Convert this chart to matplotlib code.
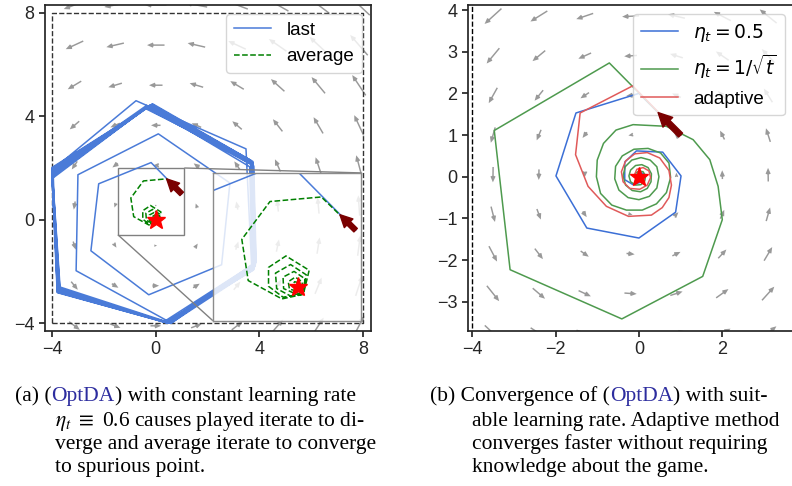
import numpy as np
import matplotlib.pyplot as plt
from mpl_toolkits.axes_grid1.inset_locator import mark_inset

plt.rcParams['font.family'] = ['Liberation Sans', 'DejaVu Sans']
plt.rcParams['axes.edgecolor'] = '#262626'
plt.rcParams['axes.linewidth'] = 1.25
plt.rcParams['xtick.color'] = '#262626'
plt.rcParams['ytick.color'] = '#262626'
plt.rcParams['xtick.major.width'] = 1.25
plt.rcParams['ytick.major.width'] = 1.25

# ---- panel (a): OptDA, constant step 0.6 ----
last_x = [1.0, -0.18, -2.2, -2.5, -0.27, 2.54, 2.86,
          0.1, -3.0, -3.07, 0.49, 3.7, 3.48,
          -0.76, -3.96, -3.80, 0.30, 3.72, 3.62,
          -0.35, -4.0, -3.78, 0.45, 3.80, 3.70,
          -0.25, -4.0, -3.75, 0.52, 3.83, 3.75,
          -0.20, -4.0, -3.72, 0.48, 3.85, 3.72,
          -0.30, -4.0, -3.76, 0.58, 3.78, 3.68,
          -0.15, -4.0, -3.70, 0.42, 3.86, 3.76,
          -0.28, -4.0, -3.74, 0.50, 3.82, 3.73,
          -0.22, -4.0, -3.73, 0.55, 3.84, 3.74,
          -0.32, -4.0, -3.77, 0.47, 3.80, 3.70,
          -0.40, -3.98, -3.79, 0.36, 3.76, 3.66,
          -0.12, -4.0, -3.69, 0.60, 3.87, 3.78,
          -0.36, -4.0, -3.80, 0.40, 3.79, 3.69,
          -0.24, -4.0, -3.74, 0.52, 3.83, 3.72]
last_y = [1.0, 2.21, 1.39, -1.2, -2.9, -1.74, 1.42,
          3.32, 1.74, -1.97, -3.93, -1.85, 2.74,
          4.60, 1.95, -2.62, -3.95, -1.75, 2.05,
          4.42, 1.85, -2.70, -3.98, -1.85, 2.20,
          4.38, 1.75, -2.74, -4.0, -1.80, 2.25,
          4.44, 1.92, -2.68, -4.0, -1.70, 2.15,
          4.35, 1.68, -2.78, -4.0, -1.90, 2.28,
          4.46, 1.98, -2.65, -3.97, -1.65, 2.10,
          4.40, 1.80, -2.72, -4.0, -1.78, 2.22,
          4.42, 1.88, -2.70, -4.0, -1.75, 2.18,
          4.37, 1.72, -2.76, -3.99, -1.82, 2.24,
          4.30, 1.60, -2.82, -3.96, -1.95, 2.30,
          4.48, 2.02, -2.60, -4.0, -1.62, 2.08,
          4.33, 1.64, -2.80, -3.98, -1.92, 2.27,
          4.41, 1.84, -2.71, -4.0, -1.79, 2.2]

avg_x = [1.0, 0.41, -0.475, -0.96, -0.85, -0.27,
         0.1, 0.2, -0.2, -0.5, -0.5, -0.25,
         0.08, 0.15, -0.12, -0.38, -0.36, -0.12,
         0.1, 0.13, -0.06, -0.25, -0.24, -0.06,
         0.08, 0.08, -0.04, -0.16, -0.14, -0.02,
         0.05, 0.03, -0.05, -0.09, -0.05, 0.0]
avg_y = [1.0, 1.58, 1.50, 0.84, 0.12, -0.20,
         -0.12, 0.3, 0.55, 0.35, 0.02, -0.17,
         -0.12, 0.22, 0.4, 0.25, -0.02, -0.15,
         -0.08, 0.15, 0.28, 0.18, -0.02, -0.1,
         -0.04, 0.1, 0.18, 0.1, -0.03, -0.06,
         0.0, 0.08, 0.1, 0.04, -0.02, 0.0]

# ---- panel (b): three step size rules ----
const_x = [1.0, 0.0, -1.51, -1.99, -1.25, 0.0, 0.88, 1.01, 0.57,
           -0.06, -0.34, -0.34, -0.14, 0.1, 0.15, 0.05, 0.0]
const_y = [1.0, 2.0, 1.53, 0.02, -1.23, -1.47, -0.85, 0.02, 0.59,
           0.62, 0.35, -0.07, -0.19, -0.11, 0.05, 0.1, 0.0]

sqrt_x = [1.0, -0.71, -3.47, -3.09, -0.41, 1.53, 2.0,
          1.9, 1.7, 1.3, 0.66, -0.14, -0.55, -0.85, -1.0, -1.02, -0.92,
          -0.65, -0.3, 0.08, 0.42, 0.66, 0.76, 0.72, 0.52, 0.22, -0.12,
          -0.4, -0.56, -0.58, -0.48, -0.26, 0.0, 0.25, 0.43, 0.48, 0.43,
          0.27, 0.05, -0.17, -0.33, -0.38, -0.32, -0.16, 0.04, 0.2, 0.29,
          0.3, 0.22, 0.07, -0.08, -0.2, -0.24, -0.2, -0.08, 0.05, 0.14,
          0.16, 0.1, 0.0, -0.08, -0.1, -0.05, 0.02, 0.0]
sqrt_y = [1.0, 2.73, 1.11, -2.23, -3.41, -2.39, -1.03,
          -0.23, 0.41, 0.89, 1.21, 1.25, 1.12, 0.8, 0.4, 0.0, -0.4,
          -0.68, -0.8, -0.8, -0.65, -0.38, -0.02, 0.33, 0.57, 0.68, 0.66,
          0.5, 0.25, -0.05, -0.32, -0.5, -0.55, -0.47, -0.27, 0.0, 0.24,
          0.4, 0.46, 0.4, 0.24, 0.02, -0.2, -0.33, -0.36, -0.28, -0.12,
          0.07, 0.22, 0.29, 0.27, 0.16, 0.02, -0.12, -0.2, -0.19, -0.1,
          0.02, 0.12, 0.14, 0.08, 0.0, -0.06, -0.05, 0.0]

adapt_x = [1.0, -0.15, -1.41, -1.52, -1.22, -0.78, -0.25, 0.3, 0.56, 0.72,
           0.78, 0.72, 0.5, 0.2, -0.1, -0.32, -0.42, -0.38, -0.22, 0.02,
           0.2, 0.28, 0.24, 0.1, -0.05, -0.1, -0.05, 0.0]
adapt_y = [1.0, 2.18, 1.53, 0.53, -0.23, -0.71, -0.95, -0.92, -0.74, -0.5,
           -0.2, 0.15, 0.45, 0.58, 0.55, 0.38, 0.12, -0.12, -0.28, -0.3,
           -0.2, -0.02, 0.14, 0.22, 0.18, 0.06, -0.02, 0.0]

start = (1.0, 1.0)
star = (0.0, 0.0)


def field(X, Y):
    # rotational vector field of the game
    return -Y, X


arrow_style = 'simple,head_length=0.55,head_width=0.55,tail_width=0.22'

fig = plt.figure(figsize=(7.92, 4.86), dpi=100)

# ================= panel (a) =================
ax = fig.add_axes([45 / 792, 155 / 486, 326 / 792, 326 / 486])
gx, gy = np.meshgrid(np.arange(-4.7, 8.6, 1.567), np.arange(-4.1, 8.5, 1.55))
U, V = field(gx, gy)
ax.quiver(gx, gy, U, V, color='gray', alpha=0.8, pivot='mid', angles='xy',
          scale_units='xy', scale=10, width=0.0045, headwidth=3.5, headlength=4)
ax.plot([-4, 8, 8, -4, -4], [-4, -4, 8, 8, -4], color='#333333', ls='--', lw=1)
ax.plot(last_x, last_y, color='#4a7bd8', lw=1.1, label='last')
ax.plot(avg_x, avg_y, color='green', ls='--', lw=1.1, label='average')
ax.plot(*star, marker='*', color='red', ms=14, ls='none', zorder=5)
ax.annotate('', xy=(0.42, 1.58), xytext=start,
            arrowprops=dict(arrowstyle=arrow_style, color='#7a0000',
                            mutation_scale=16, shrinkA=0, shrinkB=0), zorder=6)
ax.set_xlim(-4.27, 8.3)
ax.set_ylim(-4.3, 8.3)
ax.set_xticks([-4, 0, 4, 8])
ax.set_yticks([-4, 0, 4, 8])
ax.tick_params(labelsize=13, length=4)
ax.legend(loc='upper right', fontsize=13.5)

axins = ax.inset_axes([2.2, -3.9, 5.73, 5.71], transform=ax.transData)
axins.set_facecolor((1, 1, 1, 0.82))
axins.plot(last_x, last_y, color='#4a7bd8', lw=1.1)
axins.plot(avg_x, avg_y, color='green', ls='--', lw=1.1)
axins.plot(*star, marker='*', color='red', ms=14, ls='none', zorder=5)
axins.annotate('', xy=(0.73, 1.27), xytext=start,
               arrowprops=dict(arrowstyle=arrow_style, color='#7a0000',
                               mutation_scale=16, shrinkA=0, shrinkB=0), zorder=6)
axins.set_xlim(-1.46, 1.1)
axins.set_ylim(-0.58, 2.0)
axins.set_xticks([])
axins.set_yticks([])
for s in axins.spines.values():
    s.set_color('0.55')
    s.set_linewidth(1)
mark_inset(ax, axins, loc1=1, loc2=3, fc='none', ec='0.5', lw=1)

# ================= panel (b) =================
bx = fig.add_axes([468 / 792, 155 / 486, 326 / 792, 326 / 486])
hx, hy = np.meshgrid(np.linspace(-4.6, 4.2, 9), np.linspace(-3.75, 3.85, 9))
U2, V2 = field(hx, hy)
bx.quiver(hx, hy, U2, V2, color='gray', alpha=0.8, pivot='mid', angles='xy',
          scale_units='xy', scale=9.5, width=0.0045, headwidth=3.5, headlength=4)
bx.plot([-4, 4, 4, -4, -4], [-4, -4, 5, 5, -4], color='black', ls='--', lw=1)
bx.plot(const_x, const_y, color='#3b6fd6', lw=1.1, label=r'$\eta_t = 0.5$')
bx.plot(sqrt_x, sqrt_y, color='#4e9a4e', lw=1.1, label=r'$\eta_t = 1/\sqrt{t}$')
bx.plot(adapt_x, adapt_y, color='#e05a5a', lw=1.1, label='adaptive')
bx.plot(*star, marker='*', color='red', ms=14, ls='none', zorder=5)
bx.annotate('', xy=(0.46, 1.54), xytext=start,
            arrowprops=dict(arrowstyle=arrow_style, color='#7a0000',
                            mutation_scale=18, shrinkA=0, shrinkB=0), zorder=6)
bx.set_xlim(-4.1, 3.72)
bx.set_ylim(-3.7, 4.12)
bx.set_xticks([-4, -2, 0, 2])
bx.set_yticks([-3, -2, -1, 0, 1, 2, 3, 4])
bx.tick_params(labelsize=13, length=4)
bx.legend(loc='upper right', fontsize=13.5)

# ================= captions =================
cap = fig.add_axes([0, 0, 1, 1], zorder=-1)
cap.axis('off')
cfont = dict(family='Liberation Serif', fontsize=15.5, va='baseline',
             math_fontfamily='stix')
link = '#2d2d9f'
line_y = [1 - v for v in [401 / 486, 426 / 486, 449 / 486, 472 / 486]]


def chain(parts, x0, y):
    prev = cap.text(x0, y, parts[0][0], color=parts[0][1], **cfont)
    for txt, col in parts[1:]:
        prev = cap.annotate(txt, xy=(1, y), xycoords=(prev, 'figure fraction'),
                            color=col, ha='left', **cfont)
    return prev


chain([('(a) (', 'black'), ('OptDA', link), (') with constant learning rate', 'black')],
      15 / 792, line_y[0])
cap.text(55 / 792, line_y[1], r'$\eta_t$ $\equiv$ 0.6 causes played iterate to di-', **cfont)
cap.text(55 / 792, line_y[2], 'verge and average iterate to converge', **cfont)
cap.text(55 / 792, line_y[3], 'to spurious point.', **cfont)

chain([('(b) Convergence of (', 'black'), ('OptDA', link), (') with suit-', 'black')],
      430 / 792, line_y[0])
cap.text(472 / 792, line_y[1], 'able learning rate. Adaptive method', **cfont)
cap.text(472 / 792, line_y[2], 'converges faster without requiring', **cfont)
cap.text(472 / 792, line_y[3], 'knowledge about the game.', **cfont)

fig.savefig('out.png', dpi=100)
